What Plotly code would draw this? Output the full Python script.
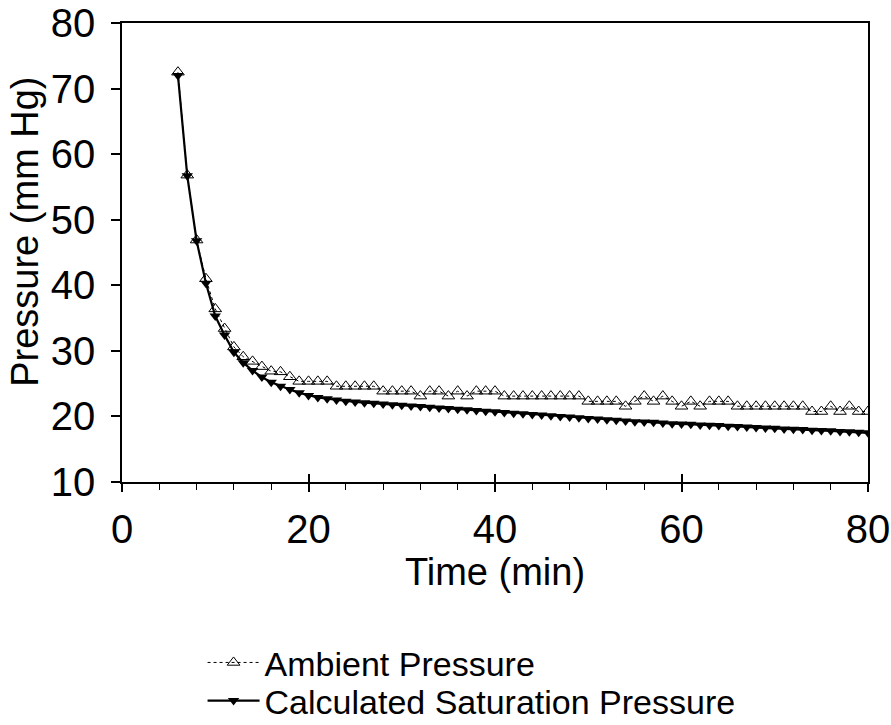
import plotly.graph_objects as go

time_min = list(range(6, 81))

ambient = [72.5, 56.8, 46.9, 41.0, 36.4, 33.4, 30.6, 29.1, 28.4, 27.6,
           26.9, 26.8, 26.05, 25.35, 25.35, 25.35, 25.35, 24.6, 24.6, 24.6,
           24.6, 24.6, 23.85, 23.85, 23.85, 23.85, 23.1, 23.85, 23.85, 23.1,
           23.85, 23.1, 23.85, 23.85, 23.85, 23.1, 23.1, 23.1, 23.1, 23.1,
           23.1, 23.1, 23.1, 23.1, 22.3, 22.3, 22.3, 22.3, 21.55, 22.3,
           23.1, 22.3, 23.1, 22.3, 21.55, 22.3, 21.55, 22.3, 22.3, 22.3,
           21.55, 21.55, 21.55, 21.55, 21.55, 21.55, 21.55, 21.55, 20.75, 20.75,
           21.55, 20.75, 21.55, 20.75, 20.75]

saturation = [72.0, 56.7, 46.8, 40.3, 35.3, 32.4, 29.8, 28.2, 27.0, 26.0,
              25.2, 24.6, 24.1, 23.6, 23.2, 22.9, 22.7, 22.5, 22.3, 22.2,
              22.1, 22.0, 21.9, 21.8, 21.7, 21.6, 21.5, 21.4, 21.3, 21.2,
              21.1, 21.0, 20.9, 20.8, 20.7, 20.6, 20.5, 20.4, 20.3, 20.2,
              20.1, 20.0, 19.9, 19.8, 19.7, 19.6, 19.5, 19.4, 19.3, 19.2,
              19.15, 19.1, 19.0, 18.9, 18.85, 18.8, 18.7, 18.65, 18.6, 18.5,
              18.45, 18.4, 18.3, 18.25, 18.2, 18.1, 18.05, 18.0, 17.9, 17.85,
              17.8, 17.7, 17.65, 17.6, 17.5]

series_names = ["Ambient Pressure", "Calculated Saturation Pressure"]
x_ticks = [0, 20, 40, 60, 80]
y_ticks = [10, 20, 30, 40, 50, 60, 70, 80]
x_title = "Time (min)"
y_title = "Pressure (mm Hg)"

FONT = "Liberation Sans, Arial, sans-serif"

fig = go.Figure()
fig.add_trace(go.Scatter(
    x=time_min, y=ambient, name=series_names[0], mode="lines+markers",
    line=dict(color="black", width=1, dash="dot"),
    marker=dict(symbol="triangle-up-open", size=11, color="black",
                line=dict(width=1, color="black")),
    legend="legend",
))
fig.add_trace(go.Scatter(
    x=time_min, y=saturation, name=series_names[1], mode="lines+markers",
    line=dict(color="black", width=2.2),
    marker=dict(symbol="triangle-down", size=10, color="black"),
    legend="legend2",
))
# overlay axis: inward half of the crossing major ticks
fig.add_trace(go.Scatter(x=[0, 80], y=[None, None], xaxis="x2", showlegend=False,
                         hoverinfo="skip"))

legend_common = dict(xanchor="left", yanchor="middle", bgcolor="rgba(0,0,0,0)",
                     font=dict(size=34, family=FONT), itemwidth=52,
                     borderwidth=0)

fig.update_layout(
    width=891, height=725,
    margin=dict(l=122, r=23, t=23, b=243, autoexpand=False),
    paper_bgcolor="white", plot_bgcolor="white",
    font=dict(family=FONT, color="black"),
    showlegend=True,
    legend=dict(x=0.108, y=-0.394, **legend_common),
    legend2=dict(x=0.108, y=-0.477, **legend_common),
    xaxis=dict(
        range=[0, 80], tickvals=x_ticks, ticktext=[str(v) for v in x_ticks],
        showgrid=False, zeroline=False, showline=True, linecolor="black",
        linewidth=1.5, mirror=True, ticks="outside", ticklen=8, tickwidth=1.5,
        tickcolor="black", tickfont=dict(size=40, family=FONT),
        ticklabelstandoff=3, automargin=False,
        minor=dict(dtick=4, tick0=0, ticks="outside", ticklen=6, tickwidth=1.2,
                   tickcolor="black", showgrid=False),
        title=dict(text=x_title, font=dict(size=38, family=FONT), standoff=0),
    ),
    xaxis2=dict(
        range=[0, 80], overlaying="x", anchor="y", side="bottom",
        tickvals=x_ticks, showticklabels=False, ticks="inside", ticklen=8,
        tickwidth=1.5, tickcolor="black", showgrid=False, zeroline=False,
        showline=False,
    ),
    yaxis=dict(
        range=[10, 80], tickvals=y_ticks, ticktext=[str(v) for v in y_ticks],
        showgrid=False, zeroline=False, showline=True, linecolor="black",
        linewidth=1.5, mirror=True, ticks="outside", ticklen=9, tickwidth=1.5,
        tickcolor="black", tickfont=dict(size=40, family=FONT),
        ticklabelstandoff=8, automargin=False,
    ),
    annotations=[dict(
        text=y_title, xref="paper", yref="paper", x=-0.1300, y=0.545,
        xanchor="center", yanchor="middle", textangle=-90, showarrow=False,
        font=dict(size=38, family=FONT, color="black"),
    )],
)

fig.write_html("out.html")
